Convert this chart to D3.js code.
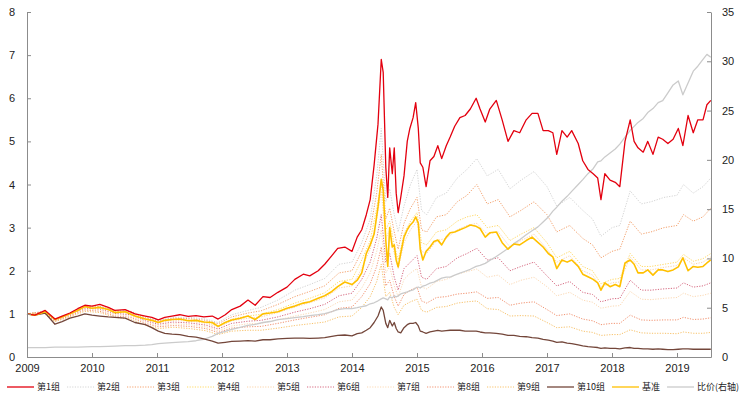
<!DOCTYPE html>
<html><head><meta charset="utf-8">
<script src="https://cdn.jsdelivr.net/npm/d3@7"></script>
<style>
html,body{margin:0;padding:0;background:#fff;}
svg{display:block;font-family:"Liberation Sans",Arial,sans-serif;}
</style></head>
<body><svg id="c" width="741" height="399"></svg>
<script>
// ---- data (decimal years) ----
const datesMain = [
2009.00,2009.12,2009.28,2009.43,2009.54,2009.66,2009.78,2009.89,2010.00,2010.12,
2010.25,2010.35,2010.51,2010.66,2010.82,2010.92,2011.02,2011.12,2011.23,2011.35,
2011.48,2011.60,2011.72,2011.85,2011.94,2012.05,2012.15,2012.28,2012.40,2012.51,
2012.63,2012.74,2012.86,2013.00,2013.12,2013.25,2013.35,2013.48,2013.58,2013.69,
2013.78,2013.89,2014.00,2014.08,2014.15,2014.22,2014.28,2014.34,2014.40,2014.45,
2014.48,2014.52,2014.55,2014.58,2014.62,2014.65,2014.68,2014.71,2014.75,2014.80,
2014.85,2014.89,2014.94,2014.98,2015.02,2015.05,2015.09,2015.14,2015.20,2015.26,
2015.32,2015.38,2015.45,2015.51,2015.58,2015.66,2015.74,2015.82,2015.91,2015.97,
2016.05,2016.12,2016.22,2016.31,2016.40,2016.49,2016.58,2016.68,2016.77,2016.86,
2016.94,2017.02,2017.09,2017.15,2017.23,2017.31,2017.38,2017.48,2017.55,2017.63,
2017.71,2017.78,2017.83,2017.89,2017.97,2018.05,2018.12,2018.20,2018.28,2018.34,
2018.40,2018.48,2018.55,2018.63,2018.71,2018.78,2018.86,2018.94,2019.02,2019.09,
2019.17,2019.25,2019.32,2019.40,2019.46,2019.52];

const group1 = [
1.00,0.97,1.08,0.88,0.95,1.02,1.12,1.20,1.18,1.22,
1.15,1.08,1.10,1.00,0.95,0.92,0.86,0.92,0.95,0.98,
0.94,0.96,0.93,0.95,0.88,0.98,1.10,1.18,1.32,1.20,
1.40,1.38,1.50,1.62,1.80,1.92,1.88,2.00,2.15,2.35,
2.52,2.55,2.45,2.78,2.95,3.30,3.65,4.45,5.40,6.90,
6.60,4.40,3.70,4.85,4.25,4.85,3.80,3.35,3.70,4.20,
5.00,5.30,5.55,5.90,5.30,4.50,4.40,3.95,4.55,4.65,
4.90,4.60,4.90,5.10,5.35,5.55,5.60,5.75,6.00,5.75,
5.45,5.75,5.95,5.50,5.00,5.25,5.20,5.50,5.65,5.65,
5.25,5.25,5.20,4.70,5.25,5.10,5.25,4.95,4.55,4.35,
4.25,4.15,3.65,4.25,4.10,4.05,3.95,5.00,5.50,5.00,
4.85,4.75,5.00,4.70,5.10,5.05,4.95,5.05,5.30,4.90,
5.60,5.20,5.50,5.50,5.85,5.95];

const benchmark = [
1.00,0.97,1.05,0.87,0.93,1.00,1.08,1.17,1.13,1.15,
1.10,1.03,1.05,0.95,0.88,0.85,0.80,0.85,0.87,0.88,
0.84,0.85,0.81,0.80,0.71,0.80,0.86,0.90,0.95,0.87,
1.00,1.02,1.05,1.13,1.18,1.25,1.28,1.36,1.42,1.52,
1.63,1.74,1.68,1.78,1.95,2.40,2.60,2.85,3.48,4.12,
3.87,2.70,2.10,3.00,2.55,2.60,2.25,2.09,2.41,2.78,
2.95,3.05,3.13,3.25,3.10,2.50,2.25,2.45,2.55,2.68,
2.71,2.60,2.78,2.88,2.90,2.95,3.00,3.06,3.03,2.98,
2.78,2.88,2.90,2.65,2.50,2.62,2.60,2.70,2.78,2.66,
2.55,2.40,2.32,2.05,2.25,2.20,2.25,2.10,1.92,1.86,
1.80,1.72,1.55,1.72,1.63,1.68,1.63,2.18,2.25,2.15,
1.95,1.95,2.02,1.90,2.02,2.02,1.98,2.02,2.09,2.30,
2.00,2.10,2.08,2.10,2.18,2.25];

const group10 = [
1.00,0.97,1.02,0.76,0.82,0.90,0.95,1.00,0.97,0.95,
0.93,0.92,0.90,0.80,0.75,0.68,0.60,0.55,0.53,0.52,
0.48,0.46,0.42,0.37,0.32,0.34,0.36,0.37,0.38,0.37,
0.40,0.40,0.42,0.43,0.44,0.44,0.43,0.44,0.45,0.48,
0.50,0.51,0.49,0.54,0.56,0.62,0.68,0.80,0.95,1.16,
1.08,0.78,0.68,0.85,0.72,0.80,0.66,0.58,0.56,0.68,
0.75,0.78,0.78,0.80,0.72,0.60,0.58,0.55,0.58,0.60,
0.62,0.60,0.61,0.62,0.62,0.62,0.60,0.60,0.60,0.58,
0.56,0.56,0.55,0.53,0.50,0.50,0.48,0.47,0.45,0.44,
0.41,0.39,0.37,0.34,0.35,0.32,0.31,0.28,0.26,0.24,
0.23,0.22,0.20,0.21,0.20,0.20,0.19,0.21,0.22,0.20,
0.20,0.19,0.19,0.18,0.19,0.18,0.17,0.17,0.18,0.19,
0.19,0.18,0.18,0.18,0.18,0.18];

const ratio = [
0.95,0.95,0.95,1.00,1.00,1.00,1.00,1.02,1.05,1.05,
1.08,1.10,1.15,1.15,1.20,1.25,1.35,1.40,1.45,1.50,
1.55,1.65,1.80,2.10,2.40,2.60,2.80,3.00,3.20,3.30,
3.50,3.60,3.80,3.90,4.00,4.10,4.20,4.30,4.40,4.60,
4.80,4.90,4.90,5.00,5.10,5.20,5.40,5.50,5.70,5.90,
6.00,5.90,5.80,6.10,6.00,6.20,6.10,6.20,6.40,6.50,
6.60,6.70,6.80,7.00,7.10,7.00,7.20,7.30,7.50,7.60,
7.80,8.00,8.10,8.10,8.30,8.50,8.70,8.90,9.20,9.30,
9.50,9.80,10.20,10.60,11.00,11.50,11.90,12.40,12.80,13.20,
13.70,14.20,14.80,15.20,15.80,16.30,16.80,17.50,18.00,18.60,
19.10,19.80,19.90,20.30,20.70,21.10,21.60,22.30,23.00,23.40,
23.80,24.20,24.80,25.20,25.80,26.00,26.80,27.60,28.00,26.60,
27.80,29.00,29.50,30.20,30.70,30.40];

const datesDot = [
2009.00,2009.25,2009.43,2009.60,2009.89,2010.12,2010.35,2010.60,2010.82,2011.02,
2011.25,2011.50,2011.75,2011.94,2012.15,2012.40,2012.60,2012.86,2013.12,2013.35,
2013.58,2013.80,2014.00,2014.15,2014.28,2014.38,2014.45,2014.52,2014.58,2014.65,
2014.71,2014.80,2014.90,2015.00,2015.07,2015.15,2015.30,2015.45,2015.62,2015.77,
2015.92,2016.08,2016.25,2016.43,2016.60,2016.80,2017.00,2017.15,2017.35,2017.55,
2017.70,2017.83,2018.00,2018.12,2018.28,2018.45,2018.60,2018.80,2019.00,2019.10,
2019.25,2019.40,2019.52];

const group2 = [
1.00,1.06,0.88,0.98,1.18,1.18,1.08,1.06,0.93,0.85,
0.92,0.92,0.88,0.80,0.98,1.08,1.15,1.32,1.55,1.68,
1.82,2.15,2.20,2.65,3.20,4.20,5.30,3.60,3.90,3.30,
2.90,3.50,4.00,4.35,3.40,3.30,3.70,3.80,4.15,4.35,
4.60,4.20,4.35,3.90,4.10,4.30,3.95,3.50,3.70,3.40,
3.20,2.80,3.00,3.05,3.85,3.55,3.60,3.70,3.75,4.00,
3.80,3.95,4.15];
const group3 = [
1.00,1.05,0.88,0.98,1.18,1.17,1.07,1.05,0.91,0.83,
0.90,0.89,0.85,0.77,0.93,1.02,1.07,1.22,1.40,1.52,
1.65,1.95,2.00,2.45,2.95,3.80,4.70,3.20,3.45,2.90,
2.50,3.10,3.45,3.70,2.95,2.90,3.25,3.30,3.60,3.75,
4.00,3.55,3.65,3.25,3.40,3.60,3.30,2.90,3.05,2.75,
2.60,2.30,2.45,2.50,3.15,2.85,2.90,3.00,3.05,3.30,
3.15,3.25,3.45];
const group4 = [
1.00,1.05,0.87,0.97,1.17,1.16,1.06,1.04,0.89,0.81,
0.87,0.86,0.81,0.72,0.88,0.95,0.99,1.10,1.25,1.36,
1.49,1.75,1.80,2.25,2.70,3.45,4.05,2.95,3.15,2.60,
2.25,2.85,3.15,3.35,2.65,2.60,2.90,2.95,3.15,3.25,
3.30,3.00,3.05,2.70,2.85,3.00,2.65,2.30,2.45,2.10,
2.00,1.70,1.80,1.82,2.40,2.10,2.10,2.15,2.20,2.38,
2.22,2.28,2.40];
const group5 = [
1.00,1.04,0.86,0.96,1.15,1.14,1.04,1.01,0.87,0.79,
0.85,0.83,0.78,0.69,0.84,0.90,0.93,1.03,1.16,1.26,
1.37,1.60,1.65,2.05,2.50,3.20,3.85,2.75,2.95,2.40,
2.05,2.65,2.95,3.15,2.45,2.40,2.70,2.75,2.95,3.05,
3.10,2.85,2.90,2.55,2.70,2.85,2.50,2.20,2.35,2.00,
1.90,1.62,1.72,1.74,2.32,2.02,2.02,2.08,2.12,2.30,
2.15,2.20,2.32];
const group6 = [
1.00,1.04,0.85,0.95,1.13,1.11,1.01,0.98,0.84,0.76,
0.81,0.79,0.74,0.65,0.78,0.83,0.85,0.93,1.04,1.12,
1.22,1.42,1.48,1.80,2.20,2.75,3.30,2.20,2.40,1.85,
1.55,2.05,2.20,2.35,1.85,1.80,2.05,2.10,2.30,2.40,
2.52,2.25,2.30,2.00,2.10,2.20,1.88,1.65,1.75,1.50,
1.45,1.28,1.35,1.36,1.78,1.55,1.55,1.58,1.60,1.72,
1.62,1.65,1.72];
const group7 = [
1.00,1.03,0.84,0.93,1.11,1.09,0.98,0.95,0.81,0.73,
0.77,0.75,0.70,0.61,0.72,0.77,0.78,0.86,0.95,1.02,
1.10,1.28,1.32,1.60,1.95,2.45,2.95,1.95,2.10,1.65,
1.40,1.80,1.95,2.05,1.62,1.58,1.75,1.80,1.92,1.98,
2.04,1.85,1.90,1.68,1.78,1.85,1.63,1.42,1.50,1.32,
1.27,1.13,1.18,1.19,1.52,1.34,1.33,1.36,1.38,1.48,
1.40,1.43,1.48];
const group8 = [
1.00,1.03,0.83,0.92,1.09,1.06,0.95,0.92,0.78,0.70,
0.73,0.71,0.66,0.57,0.67,0.70,0.71,0.78,0.86,0.92,
0.98,1.13,1.16,1.40,1.70,2.10,2.55,1.65,1.78,1.40,
1.18,1.45,1.55,1.62,1.30,1.25,1.38,1.40,1.46,1.48,
1.51,1.36,1.38,1.20,1.25,1.28,1.10,0.96,1.00,0.88,
0.84,0.75,0.78,0.78,0.97,0.86,0.85,0.86,0.86,0.92,
0.87,0.88,0.91];
const group9 = [
1.00,1.02,0.82,0.90,1.06,1.03,0.92,0.88,0.74,0.66,
0.69,0.66,0.61,0.52,0.60,0.62,0.62,0.67,0.73,0.77,
0.81,0.93,0.95,1.15,1.40,1.75,2.15,1.40,1.50,1.15,
0.98,1.20,1.28,1.34,1.08,1.04,1.15,1.17,1.25,1.28,
1.30,1.12,1.10,0.95,0.96,0.95,0.80,0.68,0.70,0.60,
0.57,0.50,0.52,0.52,0.63,0.56,0.55,0.55,0.54,0.58,
0.55,0.55,0.57];

const seriesNames = ["第1组","第2组","第3组","第4组","第5组","第6组","第7组","第8组","第9组","第10组","基准","比价(右轴)"];
const yearTicks = [2009,2010,2011,2012,2013,2014,2015,2016,2017,2018,2019];
const leftTicks = [0,1,2,3,4,5,6,7,8];
const rightTicks = [0,5,10,15,20,25,30,35];

// ---- series definitions ----
const series = [
  {name:seriesNames[0], dates:datesMain, values:group1, color:"#e3000f", w:1.3, dash:null, axis:"L"},
  {name:seriesNames[1], dates:datesDot, values:group2, color:"#d4d4d4", w:1, dash:"1.2,1.4", axis:"L"},
  {name:seriesNames[2], dates:datesDot, values:group3, color:"#f4a26e", w:1, dash:"1.2,1.4", axis:"L"},
  {name:seriesNames[3], dates:datesDot, values:group4, color:"#ffd966", w:1, dash:"1.2,1.4", axis:"L"},
  {name:seriesNames[4], dates:datesDot, values:group5, color:"#fbd3a8", w:1, dash:"1.2,1.4", axis:"L"},
  {name:seriesNames[5], dates:datesDot, values:group6, color:"#d6687f", w:1, dash:"1.2,1.4", axis:"L"},
  {name:seriesNames[6], dates:datesDot, values:group7, color:"#fcd9b4", w:1, dash:"1.2,1.4", axis:"L"},
  {name:seriesNames[7], dates:datesDot, values:group8, color:"#f29270", w:1, dash:"1.2,1.4", axis:"L"},
  {name:seriesNames[8], dates:datesDot, values:group9, color:"#f8c26a", w:1, dash:"1.2,1.4", axis:"L"},
  {name:seriesNames[9], dates:datesMain, values:group10, color:"#73463a", w:1.3, dash:null, axis:"L"},
  {name:seriesNames[10], dates:datesMain, values:benchmark, color:"#ffc000", w:1.6, dash:null, axis:"L"},
  {name:seriesNames[11], dates:datesMain, values:ratio, color:"#cbcbcb", w:1.3, dash:null, axis:"R"}
];

const svg = d3.select("#c");
const x = d3.scaleLinear().domain([2009, 2019.523]).range([27, 711]);
const yL = d3.scaleLinear().domain([0, 8]).range([357, 12]);
const yR = d3.scaleLinear().domain([0, 35]).range([357, 12]);

// lines: dotted first, then ratio, brown, benchmark, red
const drawOrder = [1,2,3,4,5,6,7,8,11,9,10,0];
const gLines = svg.append("g");
drawOrder.forEach(i => {
  const s = series[i];
  const ys = s.axis === "L" ? yL : yR;
  const pts = d3.zip(s.dates, s.values);
  const line = d3.line().x(d => x(d[0])).y(d => ys(d[1]));
  gLines.append("path")
    .attr("d", line(pts))
    .attr("fill", "none")
    .attr("stroke", s.color)
    .attr("stroke-width", s.w)
    .attr("stroke-linejoin", "round")
    .attr("stroke-dasharray", s.dash);
});

// axes
function styleAxis(g){
  g.selectAll(".domain").attr("stroke", "#8c8c8c");
  g.selectAll(".tick line").attr("stroke", "#8c8c8c");
  g.selectAll("text").attr("fill", "#222").style("font-size", "11px")
    .style("font-family", '"Liberation Sans", Arial, sans-serif');
}
svg.append("g").attr("transform", "translate(0,357)")
  .call(d3.axisBottom(x).tickValues(yearTicks).tickFormat(d3.format("d"))
    .tickSizeInner(-4).tickSizeOuter(0).tickPadding(7))
  .call(styleAxis);
svg.append("g").attr("transform", "translate(27,0)")
  .call(d3.axisLeft(yL).tickValues(leftTicks).tickSizeInner(-4).tickSizeOuter(0).tickPadding(12))
  .call(styleAxis);
svg.append("g").attr("transform", "translate(711,0)")
  .call(d3.axisRight(yR).tickValues(rightTicks).tickSizeInner(-4).tickSizeOuter(0).tickPadding(11))
  .call(styleAxis);

// legend (flow layout)
const leg = svg.append("g").attr("transform", "translate(7,387)");
let lx = 0;
series.forEach(s => {
  const it = leg.append("g").attr("transform", `translate(${lx},0)`);
  it.append("line").attr("x1", 0).attr("x2", 27).attr("y1", 0).attr("y2", 0)
    .attr("stroke", s.color).attr("stroke-width", s.dash ? 1 : 1.3)
    .attr("stroke-dasharray", s.dash);
  const t = it.append("text").attr("x", 30).attr("y", 0).attr("dy", "0.36em")
    .style("font-size", "9px")
    .style("font-family", '"Noto Sans CJK SC", "Noto Sans", sans-serif')
    .attr("fill", "#222").text(s.name);
  lx += 30 + t.node().getComputedTextLength() + 7;
});
</script></body></html>
